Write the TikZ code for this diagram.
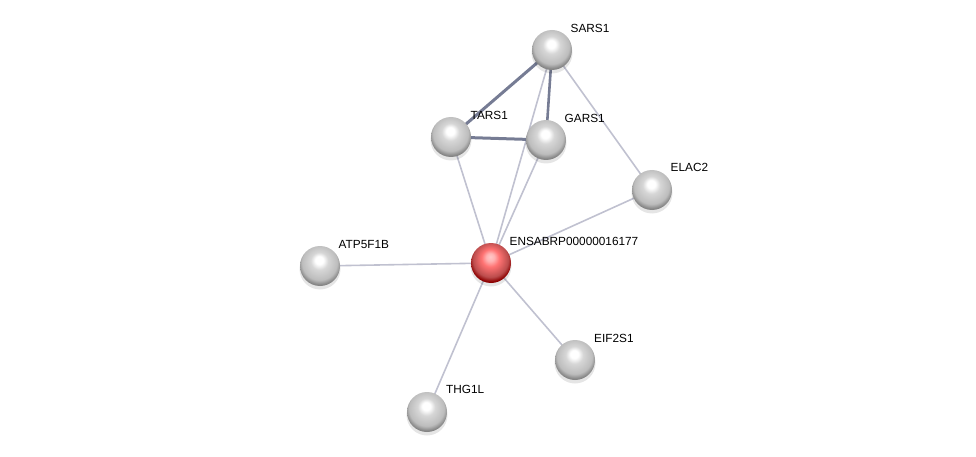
\documentclass[tikz,border=0pt]{standalone}
\usepackage{fontspec}
\setmainfont{Liberation Sans}
\pgfdeclarelayer{edges}
\pgfdeclarelayer{shadows}
\pgfsetlayers{edges,shadows,main}
\pgfdeclareradialshading{greyball}{\pgfpoint{-1bp}{8bp}}{%
  color(0bp)=(white);
  color(5bp)=(white);
  color(11bp)=(black!16);
  color(22bp)=(black!26);
  color(27bp)=(black!48);
  color(50bp)=(black!48)}
\pgfdeclareradialshading{redball}{\pgfpoint{-1bp}{8bp}}{%
  color(0bp)=(red!22!white);
  color(5bp)=(red!30!white);
  color(11bp)=(red!55!white);
  color(22bp)=(red!62!black!70!white);
  color(27bp)=(red!55!black);
  color(50bp)=(red!55!black)}
\definecolor{thinc}{RGB}{192,193,208}
\definecolor{thickc}{RGB}{118,124,148}
\tikzset{
  prot/.style={circle, minimum size=40pt, inner sep=0pt, shading=greyball},
  protq/.style={circle, minimum size=40pt, inner sep=0pt, shading=redball},
  lab/.style={anchor=west, font=\fontsize{11.8}{13}\selectfont, inner sep=0pt},
  thinedge/.style={draw=thinc, line width=1.6pt},
  thickedge/.style={draw=thickc, line width=3pt},
  midedge/.style={draw=thickc, line width=2.6pt},
  shad/.style={fill=black, opacity=0.10},
}
\begin{document}
\begin{tikzpicture}[x=1pt,y=-1pt]
\useasboundingbox (0,0) rectangle (976,457);
% nodes
\node[prot] (SARS1) at (552,50) {};
\node[prot] (TARS1) at (451,137) {};
\node[prot] (GARS1) at (546,140) {};
\node[prot] (ELAC2) at (652,190) {};
\node[protq] (ENS) at (491,263) {};
\node[prot] (ATP) at (320,266) {};
\node[prot] (EIF) at (575,360) {};
\node[prot] (THG) at (427,412) {};
% labels
\node[lab] (lSARS1) at ([xshift=18.5pt,yshift=22pt]SARS1.center) {SARS1};
\node[lab] (lTARS1) at ([xshift=19.5pt,yshift=22pt]TARS1.center) {TARS1};
\node[lab] (lGARS1) at ([xshift=18.5pt,yshift=21.5pt]GARS1.center) {GARS1};
\node[lab] (lELAC2) at ([xshift=18.5pt,yshift=22.5pt]ELAC2.center) {ELAC2};
\node[lab] (lENS) at ([xshift=18.5pt,yshift=22pt]ENS.center) {ENSABRP00000016177};
\node[lab] (lATP) at ([xshift=18.5pt,yshift=22pt]ATP.center) {ATP5F1B};
\node[lab] (lEIF) at ([xshift=19pt,yshift=22pt]EIF.center) {EIF2S1};
\node[lab] (lTHG) at ([xshift=19pt,yshift=22.5pt]THG.center) {THG1L};
% shadows
\begin{pgfonlayer}{shadows}
\foreach \n in {SARS1,TARS1,GARS1,ELAC2,ENS,ATP,EIF,THG}{
  \fill[shad] ([yshift=-3pt]\n.center) circle (20.5pt);
}
\end{pgfonlayer}
% edges
\begin{pgfonlayer}{edges}
\draw[thinedge] (SARS1.center) -- (ELAC2.center);
\draw[thinedge] (SARS1.center) -- (ENS.center);
\draw[thinedge] (TARS1.center) -- (ENS.center);
\draw[thinedge] (GARS1.center) -- (ENS.center);
\draw[thinedge] (ELAC2.center) -- (ENS.center);
\draw[thinedge] (ATP.center) -- (ENS.center);
\draw[thinedge] (EIF.center) -- (ENS.center);
\draw[thinedge] (THG.center) -- (ENS.center);
\draw[thickedge] (SARS1.center) -- (TARS1.center);
\draw[thickedge] (TARS1.center) -- (GARS1.center);
\draw[midedge] (SARS1.center) -- (GARS1.center);
\end{pgfonlayer}
\end{tikzpicture}
\end{document}
